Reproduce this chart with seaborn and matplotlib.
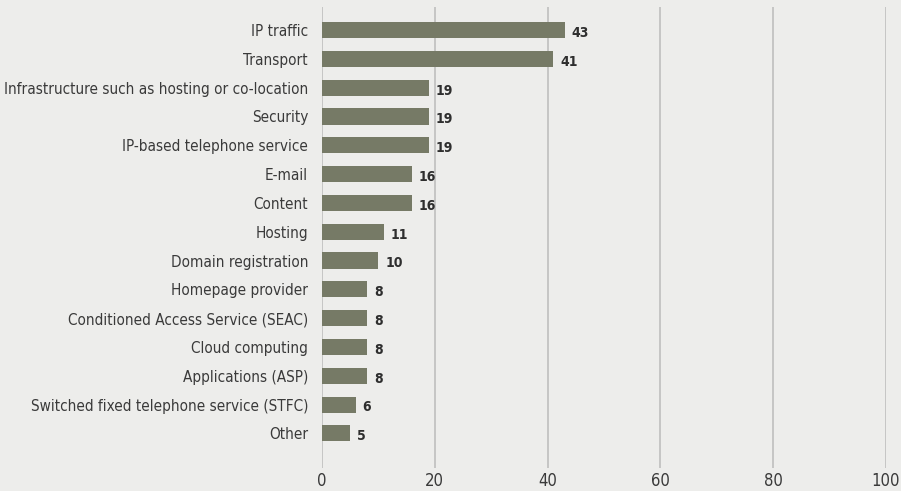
import pandas as pd
import matplotlib
matplotlib.use("Agg")
import matplotlib.pyplot as plt
import seaborn as sns

# === 1. Daten ===
kategorien = [
    "IP traffic", "Transport", "Infrastructure such as hosting or co-location",
    "Security", "IP-based telephone service", "E-mail", "Content", "Hosting",
    "Domain registration", "Homepage provider",
    "Conditioned Access Service (SEAC)", "Cloud computing",
    "Applications (ASP)", "Switched fixed telephone service (STFC)", "Other",
]
werte = [43, 41, 19, 19, 19, 16, 16, 11, 10, 8, 8, 8, 8, 6, 5]
x_ticks = [0, 20, 40, 60, 80, 100]

df = pd.DataFrame({"Kategorie": kategorien, "Wert": werte})

# === 2. Stil ===
bg = "#ededeb"
bar_col = "#767a66"
sns.set_style("white")
plt.rcParams["font.family"] = ["DejaVu Sans"]
plt.rcParams["font.stretch"] = "condensed"

fig = plt.figure(figsize=(9.01, 4.91), dpi=100, facecolor=bg)
ax = fig.add_axes([322 / 901, 1 - 468 / 491, (886 - 322) / 901, (468 - 7) / 491])
ax.set_facecolor(bg)

# === 3. Balken ===
sns.barplot(data=df, y="Kategorie", x="Wert", color=bar_col, width=0.56,
            saturation=1, linewidth=0, ax=ax, zorder=3)

for i, v in enumerate(werte):
    ax.text(v + 1.2, i + 0.1, str(v), va="center", ha="left",
            fontsize=10, fontweight="bold", color="#2e2e2e")

ax.set_xlim(0, 100)
ax.set_ylim(15.2, -0.8)
ax.set_xticks(x_ticks)
ax.set_xticklabels([str(t) for t in x_ticks])
for t in x_ticks:
    ax.axvline(t, color="#c2c2c2", lw=1.3, zorder=1)
for s in ax.spines.values():
    s.set_visible(False)
ax.tick_params(axis="both", length=0, colors="#3a3a3a")
ax.tick_params(axis="y", pad=10, labelsize=11)
ax.tick_params(axis="x", pad=3, labelsize=12)
ax.set_xlabel("")
ax.set_ylabel("")

fig.savefig("out.png", dpi=100, facecolor=bg)
